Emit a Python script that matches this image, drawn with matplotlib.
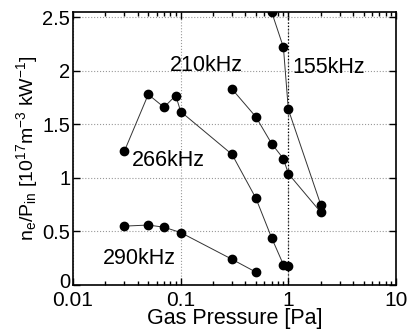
import numpy as np
import matplotlib
matplotlib.use("Agg")
import matplotlib.pyplot as plt
import matplotlib.transforms as mtransforms
from matplotlib.ticker import LogLocator, NullFormatter, FixedLocator

plt.rcParams['font.family'] = ['Liberation Sans', 'DejaVu Sans']
plt.rcParams['mathtext.fontset'] = 'custom'
plt.rcParams['mathtext.rm'] = 'Liberation Sans'
plt.rcParams['mathtext.it'] = 'Liberation Sans'

# data
p155 = [0.7, 0.9, 1.0, 2.0]
n155 = [2.55, 2.22, 1.64, 0.75]

p210 = [0.3, 0.5, 0.7, 0.9, 1.0, 2.0]
n210 = [1.83, 1.57, 1.32, 1.18, 1.04, 0.68]

p266 = [0.03, 0.05, 0.07, 0.09, 0.1, 0.3, 0.5, 0.7, 0.9, 1.0]
n266 = [1.25, 1.78, 1.66, 1.77, 1.62, 1.22, 0.81, 0.44, 0.19, 0.175]

p290 = [0.03, 0.05, 0.07, 0.1, 0.3, 0.5]
n290 = [0.55, 0.56, 0.54, 0.49, 0.24, 0.12]

labels = ['155kHz', '210kHz', '266kHz', '290kHz']
label_pos = [(1.09, 2.03), (0.175, 2.05), (0.035, 1.16), (0.019, 0.25)]
label_ha = ['left', 'center', 'left', 'left']

fig = plt.figure(figsize=(4.08, 3.35), dpi=100)
ax = fig.add_axes([73/408, 1-285/335, (396-73)/408, (285-12)/335])

for p, n in [(p155, n155), (p210, n210), (p266, n266), (p290, n290)]:
    ax.plot(p, n, color='#333333', lw=0.7, marker='o', ms=6,
            mfc='black', mec='black', zorder=3)

for t, (x, y), ha in zip(labels, label_pos, label_ha):
    ax.text(x, y, t, fontsize=15.5, ha=ha, va='center', zorder=4)

ax.set_xscale('log')
ax.set_xlim(0.01, 10)
ax.set_ylim(0, 2.55)
ax.yaxis.set_major_locator(FixedLocator([0, 0.5, 1, 1.5, 2, 2.5]))
ax.set_yticklabels(['0', '0.5', '1', '1.5', '2', '2.5'])
ax.xaxis.set_major_locator(FixedLocator([0.01, 0.1, 1, 10]))
ax.set_xticklabels(['0.01', '0.1', '1', '10'])
ax.xaxis.set_minor_locator(LogLocator(base=10, subs=np.arange(2, 10)))
ax.xaxis.set_minor_formatter(NullFormatter())

ax.tick_params(which='both', direction='in', top=True, right=True, width=1)
ax.tick_params(which='major', length=5)
ax.tick_params(which='minor', length=3)
ax.tick_params(axis='x', labelsize=15, pad=4)
ax.tick_params(axis='y', labelsize=14.5, pad=2)
ax.grid(True, which='major', ls=':', color='#999999', lw=0.8)
ax.axvline(1, ls=':', color='black', lw=0.9, zorder=2)
for s in ax.spines.values():
    s.set_linewidth(1.2)

# lift the "0" label a little so it sits clear of "0.01"
zero_lbl = ax.get_yticklabels()[0]
zero_lbl.set_transform(zero_lbl.get_transform() +
                       mtransforms.ScaledTranslation(0, 4/100, fig.dpi_scale_trans))

ax.set_xlabel('Gas Pressure [Pa]', fontsize=15.5, labelpad=-1)
ax.set_ylabel(r'n$_e$/P$_{in}$ [10$^{17}$m$^{-3}$ kW$^{-1}$]', fontsize=14,
              labelpad=2)

fig.savefig('out.png', dpi=100)
